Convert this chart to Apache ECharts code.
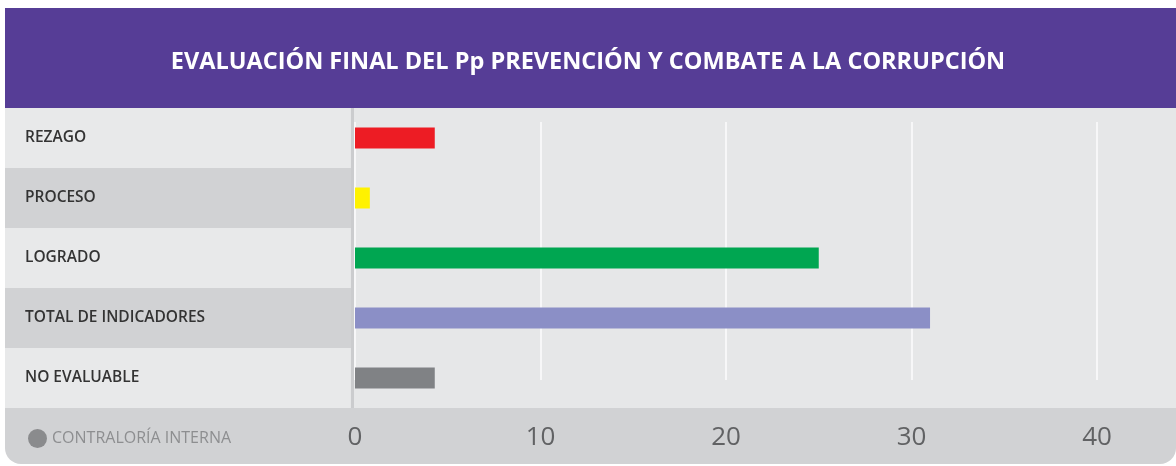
<!DOCTYPE html>
<html>
<head>
<meta charset="utf-8">
<script src="https://cdn.jsdelivr.net/npm/echarts@6/dist/echarts.min.js"></script>
<style>
  html, body { margin: 0; padding: 0; background: #fff; }
  #chart { width: 1176px; height: 466px; }
</style>
</head>
<body>
<div id="chart"></div>
<script>
// datos
var categorias = ['REZAGO', 'PROCESO', 'LOGRADO', 'TOTAL DE INDICADORES', 'NO EVALUABLE'];
var valores = [4.3, 0.8, 25, 31, 4.3];
var colores = ['#ed1c24', '#fff200', '#00a651', '#8b8fc6', '#808285'];
var serieNombre = 'CONTRALORÍA INTERNA';
var titulo = 'EVALUACIÓN FINAL DEL Pp PREVENCIÓN Y COMBATE A LA CORRUPCIÓN';

function Grafica(){
  var chart = echarts.init(document.getElementById('chart'));

  // fondos de las filas (columna de etiquetas)
  var fondos = [];
  for (var i = 0; i < categorias.length; i++) {
    var oscuro = i % 2 === 1;
    fondos.push({
      type: 'rect', z: -9,
      shape: { x: 5, y: 108 + i * 60, width: oscuro ? 348 : 345, height: 60 },
      style: { fill: oscuro ? '#d1d2d4' : '#e8e9ea' }
    });
  }

  option = {
    backgroundColor: '#ffffff',
    animation: false,
    title: {
      text: titulo,
      left: 'center',
      top: 45,
      textStyle: {
        color: '#ffffff',
        fontFamily: 'Open Sans',
        fontWeight: 'bold',
        fontSize: 23.5
      }
    },
    graphic: [
      { type: 'rect', z: -10, shape: { x: 5, y: 8, width: 1171, height: 101 }, style: { fill: '#563d96' } },
      { type: 'rect', z: -10, shape: { x: 5, y: 108, width: 1171, height: 300 }, style: { fill: '#e6e7e8' } },
      { type: 'rect', z: -10, shape: { x: 5, y: 408, width: 1171, height: 56, r: [0, 0, 16, 16] }, style: { fill: '#d1d2d4' } },
      { type: 'rect', z: -8, shape: { x: 351, y: 108, width: 3, height: 300 }, style: { fill: '#cbccce' } }
    ].concat(fondos),
    legend: {
      data: [serieNombre],
      left: 23,
      top: 424,
      icon: 'circle',
      itemWidth: 19,
      itemHeight: 19,
      itemGap: 6,
      textStyle: { color: '#8d8e90', fontSize: 16, fontFamily: 'Open Sans' }
    },
    grid: [
      { left: 355, right: 79, top: 108, bottom: 58 },
      { left: 355, right: 79, top: 122, bottom: 86 }
    ],
    xAxis: [
      {
        type: 'value', gridIndex: 0, min: 0, max: 40, interval: 10,
        splitLine: { show: false },
        axisLine: { show: false },
        axisTick: { show: false },
        axisLabel: { color: '#616264', fontSize: 26, fontFamily: 'Open Sans', margin: 17 }
      },
      {
        type: 'value', gridIndex: 1, min: 0, max: 40, interval: 10,
        splitLine: { show: true, lineStyle: { color: '#f7f7f8', width: 2 } },
        axisLine: { show: false },
        axisTick: { show: false },
        axisLabel: { show: false }
      }
    ],
    yAxis: [
      {
        type: 'category', gridIndex: 0, inverse: true,
        data: categorias,
        axisLine: { show: false },
        axisTick: { show: false },
        axisLabel: {
          align: 'left',
          margin: 330,
          color: '#333333',
          fontSize: 15.5,
          fontWeight: 600,
          fontFamily: 'Open Sans',
          padding: [5, 0, 0, 0]
        }
      },
      {
        type: 'category', gridIndex: 1, data: categorias, show: false
      }
    ],
    series: [
      {
        name: serieNombre,
        type: 'bar',
        xAxisIndex: 0,
        yAxisIndex: 0,
        barWidth: 21,
        itemStyle: { color: '#8a8b8d' },
        data: valores.map(function(v, i){
          return { value: v, itemStyle: { color: colores[i] } };
        })
      }
    ]
  };
  chart.setOption(option);
}

Grafica();
</script>
</body>
</html>
